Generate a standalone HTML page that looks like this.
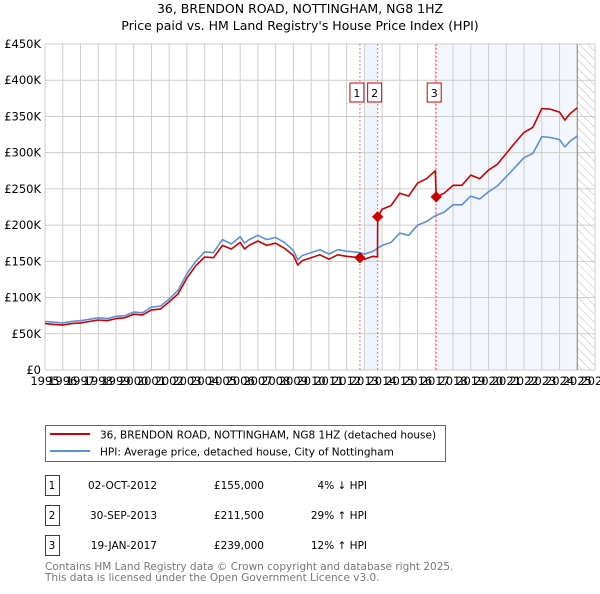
<!DOCTYPE html>
<html><head><meta charset="utf-8"><style>
body{margin:0;background:#fff;font-family:"DejaVu Sans","Liberation Sans",sans-serif;}
svg text{font-family:"DejaVu Sans","Liberation Sans",sans-serif;}
</style></head><body>
<svg id="chart" width="600" height="590" xmlns="http://www.w3.org/2000/svg">
<defs><pattern id="hatch" patternUnits="userSpaceOnUse" width="6" height="6" patternTransform="rotate(-45)"><line x1="0" y1="0" x2="0" y2="6" stroke="#bbb" stroke-width="1"/></pattern></defs>
<text x="300" y="13" text-anchor="middle" font-size="12.5">36, BRENDON ROAD, NOTTINGHAM, NG8 1HZ</text>
<text x="300" y="30" text-anchor="middle" font-size="12.5">Price paid vs. HM Land Registry's House Price Index (HPI)</text>
<g id="plot"></g>
<rect x="45.5" y="425.5" width="400" height="36" fill="#fff" stroke="#666"/>
<line x1="50" y1="434" x2="90" y2="434" stroke="#cc0000" stroke-width="2"/>
<text x="100" y="438.5" font-size="10.5">36, BRENDON ROAD, NOTTINGHAM, NG8 1HZ (detached house)</text>
<line x1="50" y1="451" x2="90" y2="451" stroke="#5b8fd6" stroke-width="2"/>
<text x="100" y="455.5" font-size="10.5">HPI: Average price, detached house, City of Nottingham</text>
<g id="table" font-size="10.5"></g>
<text x="45" y="570" font-size="10.5" fill="#777">Contains HM Land Registry data © Crown copyright and database right 2025.</text>
<text x="45" y="581" font-size="10.5" fill="#777">This data is licensed under the Open Government Licence v3.0.</text>
</svg>
<script>
const yTicks=[0,50,100,150,200,250,300,350,400,450];
const yTickLabels=["£0","£50K","£100K","£150K","£200K","£250K","£300K","£350K","£400K","£450K"];
const xYears=[1995,1996,1997,1998,1999,2000,2001,2002,2003,2004,2005,2006,2007,2008,2009,2010,2011,2012,2013,2014,2015,2016,2017,2018,2019,2020,2021,2022,2023,2024,2025,2026];
const hpiYears=[1995,1995.5,1996,1996.5,1997,1997.5,1998,1998.5,1999,1999.5,2000,2000.5,2001,2001.5,2002,2002.5,2003,2003.5,2004,2004.5,2005,2005.5,2006,2006.25,2006.5,2007,2007.5,2008,2008.5,2009,2009.25,2009.5,2010,2010.5,2011,2011.5,2012,2012.75,2013,2013.5,2014,2014.5,2015,2015.5,2016,2016.5,2017,2017.5,2018,2018.5,2019,2019.5,2020,2020.5,2021,2021.5,2022,2022.5,2023,2023.5,2024,2024.3,2024.6,2025];
const hpiValues=[67,66,65,67,68,70,72,71,74,75,80,79,87,88,98,110,133,150,163,162,180,174,184,175,180,186,180,183,176,165,152,158,162,166,160,166,164,162,160,164,172,176,189,186,200,205,213,218,228,228,240,236,246,254,267,280,293,299,322,321,318,308,316,323];
const priceYears=[1995,1995.5,1996,1996.5,1997,1997.5,1998,1998.5,1999,1999.5,2000,2000.5,2001,2001.5,2002,2002.5,2003,2003.5,2004,2004.5,2005,2005.5,2006,2006.25,2006.5,2007,2007.5,2008,2008.5,2009,2009.25,2009.5,2010,2010.5,2011,2011.5,2012,2012.75,2013,2013.5,2013.74,2013.75,2014,2014.5,2015,2015.5,2016,2016.5,2017,2017.05,2017.5,2018,2018.5,2019,2019.5,2020,2020.5,2021,2021.5,2022,2022.5,2023,2023.5,2024,2024.3,2024.6,2025];
const priceValues=[64,63,62,64,65,67,69,68,71,72,77,76,83,84,94,105,127,144,156,155,172,167,176,167,172,178,172,175,168,158,145,151,155,159,153,159,157,155,153,157,156,211.5,222,227,244,240,258,264,275,239,244,255,255,269,264,276,284,299,314,328,335,361,360,356,345,354,362];
const saleYears=[2012.75,2013.75,2017.05];
const saleValues=[155,211.5,239];
const saleLabels=["1","2","3"];
const saleDates=["02-OCT-2012","30-SEP-2013","19-JAN-2017"];
const salePrices=["£155,000","£211,500","£239,000"];
const saleDiffs=["4% ↓ HPI","29% ↑ HPI","12% ↑ HPI"];

const NS="http://www.w3.org/2000/svg";
const X0=45,X1=595,Y0=370,Y1=44;
const xs=v=>X0+(v-1995)/(2026-1995)*(X1-X0);
const ys=v=>Y0-v/450*(Y0-Y1);
const plot=document.getElementById('plot');
function mk(tag,attrs,parent){const e=document.createElementNS(NS,tag);for(const k in attrs)e.setAttribute(k,attrs[k]);(parent||plot).appendChild(e);return e;}
let r=mk('rect',{x:xs(2013.0),y:Y1,width:xs(saleYears[1])-xs(2013.0),height:Y0-Y1,fill:'#eef3fc'});


r=mk('rect',{x:xs(saleYears[2]),y:Y1,width:xs(2025)-xs(saleYears[2]),height:Y0-Y1,fill:'#eef3fc',opacity:0.7});


r=mk('rect',{x:xs(2025),y:Y1,width:X1-xs(2025),height:Y0-Y1,fill:'url(#hatch)'});


yTicks.forEach((t,i)=>{const l=mk('line',{x1:X0,x2:X1,y1:ys(t),y2:ys(t),stroke:'#ccc'});


const tx=mk('text',{x:X0-4,y:ys(t)+4,'text-anchor':'end','font-size':'11.5'});tx.textContent=yTickLabels[i];

});
xYears.forEach(yr=>{const l=mk('line',{x1:xs(yr),x2:xs(yr),y1:Y1,y2:Y0,stroke:'#ccc'});


const tx=mk('text',{x:xs(yr),y:Y0+15,'text-anchor':'middle','font-size':'11.5'});tx.textContent=yr;

});
let b=mk('line',{x1:xs(2025),x2:xs(2025),y1:Y1,y2:Y0,stroke:'#888'});


saleYears.forEach((s,i)=>{const l=mk('line',{x1:xs(s),x2:xs(s),y1:Y1,y2:Y0,stroke:'#e05050','stroke-dasharray':'1.5,2.5'});


const bxX=xs(s)-(i==2?9:10);
const bx=mk('rect',{x:bxX,y:83,width:14,height:19,fill:'#fff',stroke:'#cc0000'});


const tx=mk('text',{x:bxX+7,y:97,'text-anchor':'middle','font-size':'11'});tx.textContent=saleLabels[i];

});
function line(xv,yv,color,name){const p=mk('polyline',{points:xv.map((x,i)=>xs(x).toFixed(1)+','+ys(yv[i]).toFixed(1)).join(' '),fill:'none',stroke:color,'stroke-width':1.6,'stroke-linejoin':'round'});

}
line(hpiYears,hpiValues,'#5b8fd6','hpi-line');
line(priceYears,priceValues,'#cc0000','price-line');
saleYears.forEach((s,i)=>{const d=mk('rect',{x:xs(s)-4,y:ys(saleValues[i])-4,width:8,height:8,fill:'#cc0000',transform:`rotate(45 ${xs(s)} ${ys(saleValues[i])})`});

});
const tb=document.getElementById('table');
saleLabels.forEach((l,i)=>{const y=475+i*30;
const bx=mk('rect',{x:45.5,y:y+0.5,width:14,height:20,fill:'#fff',stroke:'#cc0000'},tb);


const cols=[[52,l,'middle'],[157,saleDates[i],'end'],[264,salePrices[i],'end'],[367,saleDiffs[i],'end']];
cols.forEach(c=>{const t=mk('text',{x:c[0],y:y+14,'text-anchor':c[2]},tb);t.textContent=c[1];

});});
</script>
</body></html>
